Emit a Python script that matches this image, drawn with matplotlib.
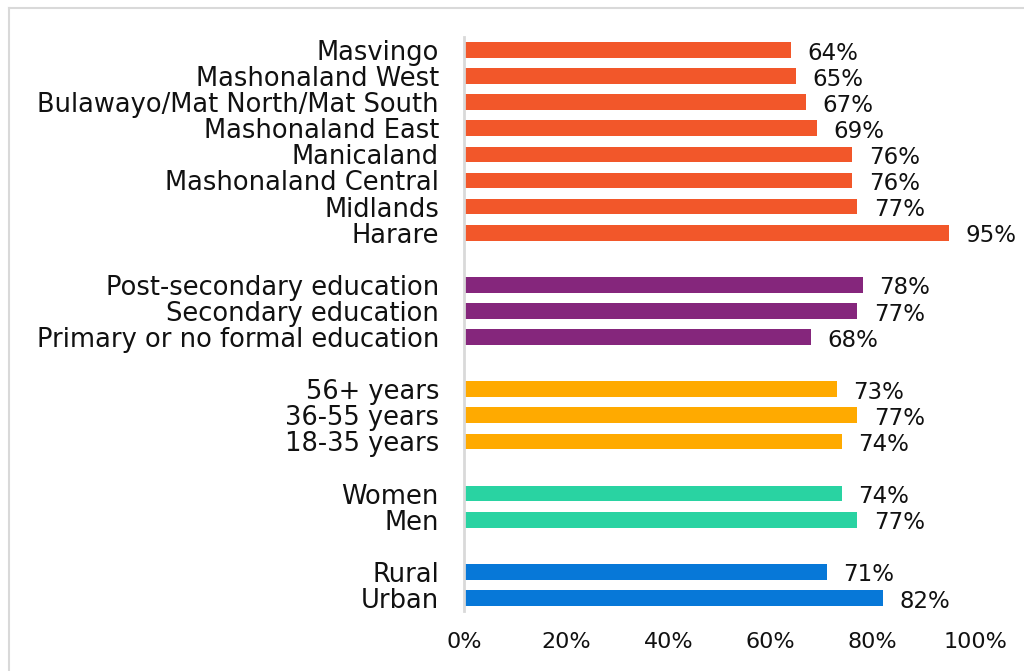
import matplotlib.pyplot as plt
from matplotlib.lines import Line2D

# groups top to bottom, blank row between groups
regions = ['Masvingo', 'Mashonaland West', 'Bulawayo/Mat North/Mat South',
           'Mashonaland East', 'Manicaland', 'Mashonaland Central', 'Midlands', 'Harare']
region_vals = [64, 65, 67, 69, 76, 76, 77, 95]
education = ['Post-secondary education', 'Secondary education', 'Primary or no formal education']
education_vals = [78, 77, 68]
age = ['56+ years', '36-55 years', '18-35 years']
age_vals = [73, 77, 74]
gender = ['Women', 'Men']
gender_vals = [74, 77]
location = ['Rural', 'Urban']
location_vals = [71, 82]

groups = [(regions, region_vals, '#F2572A'),
          (education, education_vals, '#85267C'),
          (age, age_vals, '#FFAA00'),
          (gender, gender_vals, '#29D3A2'),
          (location, location_vals, '#0778D8')]

labels, vals, colors, ypos = [], [], [], []
row = 0
for names, v, c in groups:
    for n, x in zip(names, v):
        labels.append(n)
        vals.append(x)
        colors.append(c)
        ypos.append(row)
        row += 1
    row += 1
nrows = row - 1

plt.rcParams['font.family'] = ['DejaVu Sans']

fig = plt.figure(figsize=(10.24, 6.71), dpi=100)
ax = fig.add_axes([464 / 1024, 1 - 611 / 671, (975 - 464) / 1024, (611 - 37) / 671])

ax.barh(ypos, vals, height=0.6, color=colors)
for y, v in zip(ypos, vals):
    ax.text(v + 3.2, y + 0.12, f'{v}%', va='center', ha='left', fontsize=16.5, color='#111111')

ax.set_ylim(nrows - 0.5, -0.5)
ax.set_xlim(0, 100)
ax.set_yticks(ypos)
ax.set_yticklabels(labels, fontsize=18.5, color='#111111')
ax.set_xticks(range(0, 101, 20))
ax.set_xticklabels([f'{t}%' for t in range(0, 101, 20)], fontsize=16, color='#111111')
ax.tick_params(axis='both', length=0)
ax.tick_params(axis='y', pad=18)
ax.tick_params(axis='x', pad=15)

for s in ['top', 'right', 'bottom']:
    ax.spines[s].set_visible(False)
ax.spines['left'].set_color('#D9D9D9')
ax.spines['left'].set_linewidth(2)

# outer frame (top and left edges visible)
fig.add_artist(Line2D([9 / 1024, 9 / 1024], [0, 1 - 8 / 671], transform=fig.transFigure,
                      color='#D9D9D9', lw=1.5))
fig.add_artist(Line2D([9 / 1024, 1], [1 - 8 / 671, 1 - 8 / 671], transform=fig.transFigure,
                      color='#D9D9D9', lw=1.5))

plt.savefig('out.png', dpi=100)
